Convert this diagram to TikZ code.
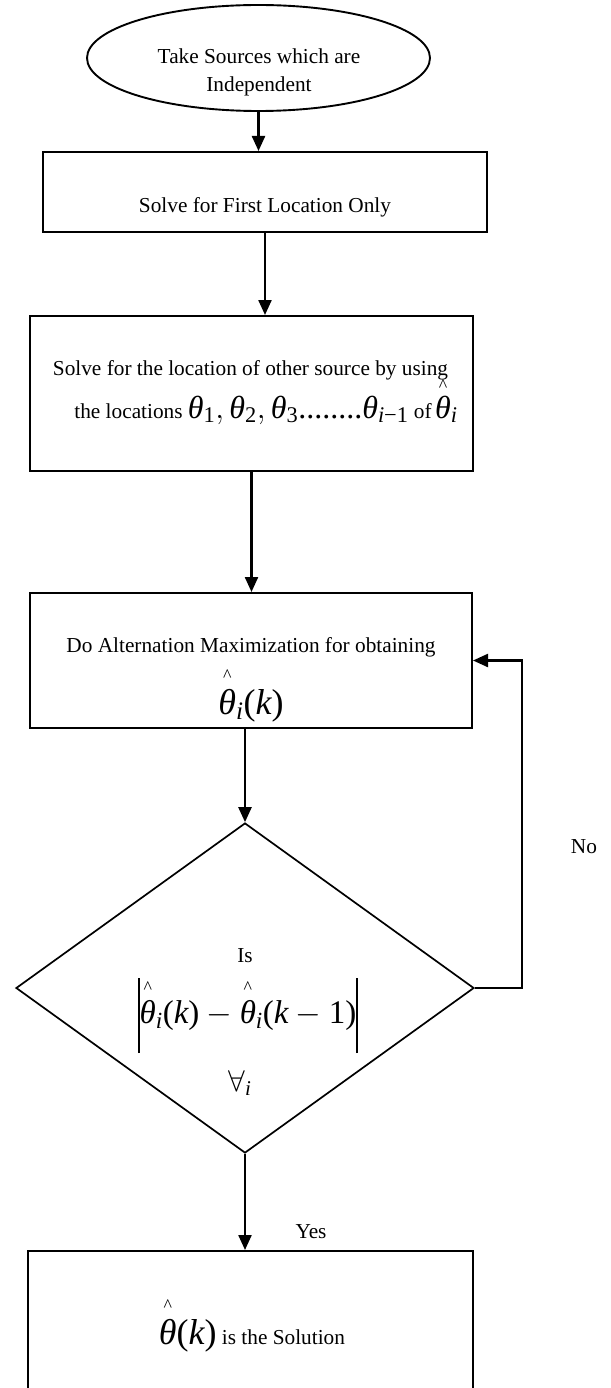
\RequirePackage{fix-cm}
\documentclass[tikz,border=0pt]{standalone}
\usepackage{amsmath}
\usepackage{fontspec}
\setmainfont{Liberation Serif}
\usetikzlibrary{shapes.geometric,arrows.meta}
\newcommand\tht{\text{\itshape θ}}
\newcommand\ti[1]{\text{\itshape #1}}
\newcommand\tu[1]{\text{#1}}
\newcommand\hatt[1]{{\overset{\hbox{\raisebox{2pt}{\fontsize{18}{18}\selectfont\textasciicircum}}}{#1}}}
\newcommand\hats[1]{{\overset{\hbox{\raisebox{-1pt}{\fontsize{18}{18}\selectfont\textasciicircum}}}{#1}}}
\newcommand\absbar{\vcenter{\hbox{\vrule width 1.2pt height 75pt depth 0pt}}}
\newcommand\txtsz{\fontsize{21.3}{28}\selectfont}
\newcommand\msz{\fontsize{32}{38}\selectfont}
\newcommand\bsz{\fontsize{36}{42}\selectfont}
\newcommand\dsz{\fontsize{33}{40}\selectfont}
\begin{document}
\begin{tikzpicture}[x=1pt,y=-1pt,
  every node/.style={font=\txtsz, inner sep=0pt},
  shapebox/.style={draw, line width=2pt, rectangle, inner sep=0pt},
  startell/.style={draw, line width=1.9pt, ellipse, inner sep=0pt},
  decision/.style={draw, line width=1.7pt, diamond, inner sep=0pt},
  arr/.style={line width=2.3pt, -{Triangle[length=15pt,width=13pt]}}]
\useasboundingbox (0,0) rectangle (610,1388);
\clip (0,0) rectangle (610,1388);

% start
\node[startell, minimum width=343pt, minimum height=106pt] (start) at (258.5,58) {};
\node[align=center] (startT) at (259,72) {Take Sources which are\\Independent};

% box 1
\node[shapebox, minimum width=444pt, minimum height=80pt] (b1) at (265,192) {};
\node (b1T) at (265,207) {Solve for First Location Only};

% box 2
\node[shapebox, minimum width=443pt, minimum height=155pt] (b2) at (251.5,393.5) {};
\node (b2T) at (250.5,370) {Solve for the location of other source by using};
\node[anchor=base] (b2M) at (266,418) {the locations {\msz$\tht_{\tu{1}},\tht_{\tu{2}},\tht_{\tu{3}}\tu{........}\tht_{\ti{i}\tu{−1}}$} of\,{\msz$\hats{\tht}_{\ti{i}}$}};

% box 3
\node[shapebox, minimum width=442pt, minimum height=135pt] (b3) at (251,660.5) {};
\node (b3T) at (251,647) {Do Alternation Maximization for obtaining};
\node[anchor=base] (b3M) at (251,714) {\bsz$\hatt{\tht}_{\ti{i}}\tu{(}\ti{k}\tu{)}$};

% decision
\node[decision, minimum width=458pt, minimum height=330pt] (dec) at (245,988) {};
\node (decIs) at (245,956) {Is};
\node (decF) at (248,1015.5) {\dsz$\absbar\hatt{\tht}_{\ti{i}}\tu{(}\ti{k}\tu{)}-\hatt{\tht}_{\ti{i}}\tu{(}\ti{k}-\tu{1}\tu{)}\absbar$};
\node (decA) at (240,1083) {\fontsize{30}{36}\selectfont$\forall_{\ti{i}}$};

% final
\node[shapebox, minimum width=445pt, minimum height=160pt] (fin) at (250.5,1331) {};
\node[anchor=base] (finT) at (252,1344) {{\bsz$\hatt{\tht}\tu{(}\ti{k}\tu{)}$} is the Solution};

% labels
\node (no) at (584,847) {No};
\node (yes) at (311,1232) {Yes};

% connectors
\draw[arr] (start.south) -- (start.south |- b1.north);
\draw[arr] (b1.south) -- (b1.south |- b2.north);
\draw[arr] (b2.south) -- (b2.south |- b3.north);
\draw[arr] (dec.north |- b3.south) -- (dec.north);
\draw[arr] (dec.east) -- ++(47,0) |- (b3.east);
\draw[arr] (dec.south) -- (dec.south |- fin.north);
\end{tikzpicture}
\end{document}
